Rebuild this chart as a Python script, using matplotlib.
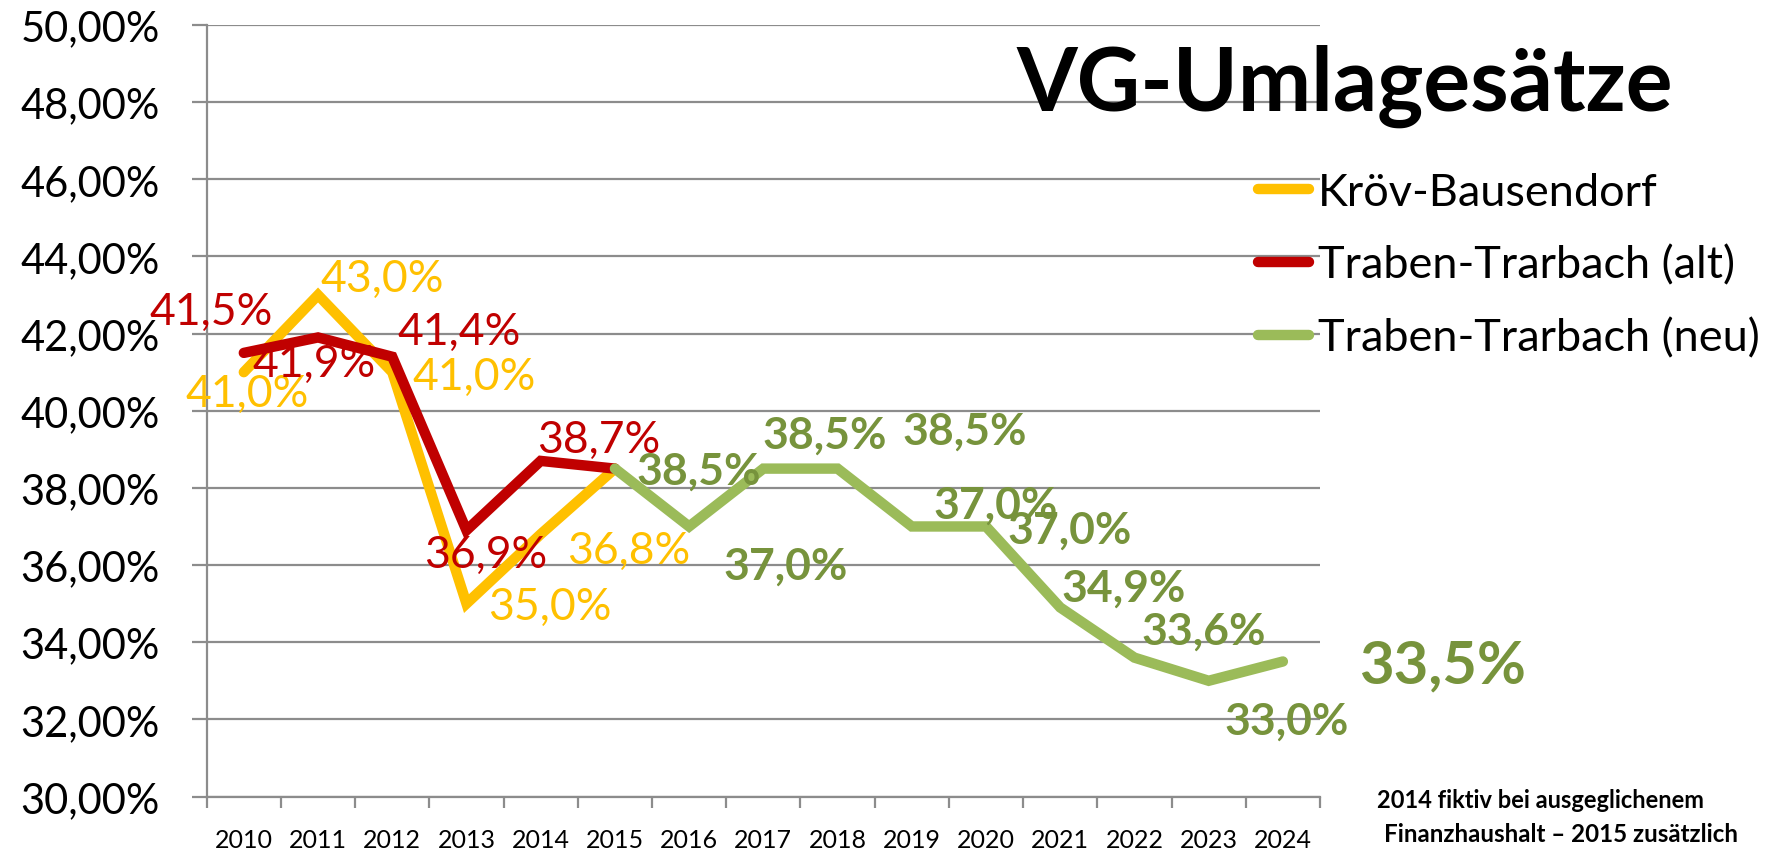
import numpy as np
import matplotlib
matplotlib.use("Agg")
import matplotlib.pyplot as plt
from matplotlib.ticker import FixedLocator, FuncFormatter

nan = np.nan

years = [str(y) for y in range(2010, 2025)]
kroev = [41.0, 43.0, 41.0, 35.0, 36.8, 38.5] + [nan] * 9
tt_alt = [41.5, 41.9, 41.4, 36.9, 38.7, 38.5] + [nan] * 9
tt_neu = [nan] * 5 + [38.5, 37.0, 38.5, 38.5, 37.0, 37.0, 34.9, 33.6, 33.0, 33.5]
names = ["Kröv-Bausendorf", "Traben-Trarbach (alt)", "Traben-Trarbach (neu)"]

# label offsets in pixels (dx, dy), None = no label
off_kroev = [(3, -34), (64, 4), (82, -17), (83, -15), (88, -29), None] + [None] * 9
off_alt = [(-33, 29), (-4, -38), (67, 13), (19, -37), (58, 9), None] + [None] * 9
off_neu = [None] * 5 + [(84, -15), (97, -52), (61, 21), (127, 25), (84, 9),
                        (84, -16), (63, 7), (69, 14), (78, -53), (160, -21)]

YELLOW = "#FFC000"
RED = "#C00000"
GREEN = "#9BBB59"
GREEN_TXT = "#77933C"
GRID = "#8C8C8C"

plt.rcParams["font.family"] = ["Lato", "DejaVu Sans"]

fig = plt.figure(figsize=(17.76, 8.53), dpi=100)
ax = fig.add_axes([206.7 / 1776, 1 - 797.5 / 853, (1320 - 206.7) / 1776, (797.5 - 26) / 853])

x = np.arange(len(years))
lw = 7.5
series = [
    (kroev, YELLOW, YELLOW, off_kroev, "normal"),
    (tt_alt, RED, RED, off_alt, "normal"),
    (tt_neu, GREEN, GREEN_TXT, off_neu, "bold"),
]
lines = []
for (vals, col, tcol, offs, fw), name in zip(series, names):
    ln, = ax.plot(x, vals, color=col, lw=lw, solid_capstyle="round",
                  solid_joinstyle="miter", label=name, zorder=3)
    lines.append(ln)

for vals, col, tcol, offs, fw in series:
    for i, v in enumerate(vals):
        if offs[i] is None or np.isnan(v):
            continue
        big = (i == len(vals) - 1)
        ax.annotate(f"{v:.1f}".replace(".", ",") + "%", (i, v), xytext=offs[i],
                    textcoords="offset pixels", ha="center", va="baseline",
                    color=tcol, fontsize=43 if big else 32, fontweight=fw,
                    zorder=5, annotation_clip=False)

ax.set_xlim(-0.5, len(years) - 0.5)
ax.set_ylim(30, 50)
ax.yaxis.set_major_locator(FixedLocator(np.arange(30, 50.1, 2)))
ax.yaxis.set_major_formatter(FuncFormatter(lambda v, p: f"{v:.2f}".replace(".", ",") + "%"))
ax.grid(axis="y", color=GRID, lw=1.6, zorder=0)
ax.set_axisbelow(True)

ax.set_xticks(x)
ax.set_xticklabels(years)
ax.set_xticks(np.arange(-0.5, len(years)), minor=True)
ax.tick_params(axis="x", which="major", length=0, pad=23, labelsize=18)
ax.tick_params(axis="x", which="minor", length=8, width=1.6, color=GRID)
ax.tick_params(axis="y", length=10.8, width=1.6, color=GRID, pad=23, labelsize=30)

for s in ["top", "right"]:
    ax.spines[s].set_visible(False)
for s in ["left", "bottom"]:
    ax.spines[s].set_color(GRID)
    ax.spines[s].set_linewidth(1.6)

ax.legend(handles=lines, loc="upper left", bbox_to_anchor=(1258 / 1776, 1 - 173 / 853),
          bbox_transform=fig.transFigure, frameon=False, fontsize=32.5,
          borderpad=0, borderaxespad=0, handlelength=1.13, handletextpad=0.19,
          labelspacing=0.7)

fig.text(1016 / 1776, 1 - 110.7 / 853, "VG-Umlagesätze", fontsize=63,
         fontweight="bold", ha="left", va="baseline")
fig.text(1377 / 1776, 1 - 808 / 853, "2014 fiktiv bei ausgeglichenem", fontsize=17,
         fontweight="bold", ha="left", va="baseline")
fig.text(1384 / 1776, 1 - 841.7 / 853, "Finanzhaushalt – 2015 zusätzlich", fontsize=17.4,
         fontweight="bold", ha="left", va="baseline")

fig.savefig("out.png", dpi=100)
